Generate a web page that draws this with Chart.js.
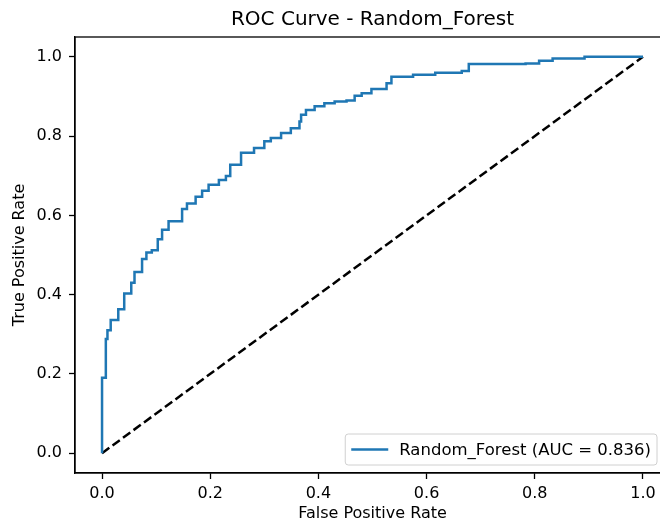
<!DOCTYPE html>
<html>
<head>
<meta charset="utf-8">
<script src="https://cdn.jsdelivr.net/npm/chart.js@4"></script>
<style>
    html, body { margin: 0; padding: 0; background: #fff; overflow: hidden; }
    #wrap { width: 660px; height: 525px; overflow: hidden; position: relative; }
    #box { width: 680px; height: 525px; }
</style>
</head>
<body>
<div id="wrap"><div id="box"><canvas id="roc"></canvas></div></div>
<script>
// ROC points (top of each step)
const fpr = [0, 0, 0.007, 0.010, 0.016, 0.030, 0.041, 0.054, 0.060, 0.074, 0.082, 0.092, 0.103, 0.111,
    0.123, 0.148, 0.157, 0.173, 0.185, 0.197, 0.216, 0.229, 0.237, 0.257, 0.281, 0.300, 0.312, 0.331,
    0.349, 0.365, 0.368, 0.377, 0.393, 0.411, 0.430, 0.452, 0.467, 0.480, 0.498, 0.526, 0.535, 0.575,
    0.616, 0.665, 0.678, 0.783, 0.808, 0.833, 0.892, 1.0];
const tpr = [0, 0.190, 0.288, 0.310, 0.336, 0.363, 0.403, 0.430, 0.457, 0.490, 0.506, 0.512, 0.540, 0.564,
    0.585, 0.616, 0.630, 0.647, 0.662, 0.677, 0.689, 0.699, 0.728, 0.758, 0.770, 0.787, 0.795, 0.808,
    0.820, 0.837, 0.854, 0.866, 0.875, 0.883, 0.887, 0.890, 0.902, 0.908, 0.919, 0.933, 0.950, 0.955,
    0.960, 0.964, 0.982, 0.983, 0.990, 0.996, 1.0, 1.0];
const chanceX = [0, 1];
const chanceY = [0, 1];
const modelName = 'Random_Forest';
const auc = 0.836;
const tickValues = [0, 0.2, 0.4, 0.6, 0.8, 1.0];

const FONT = 'DejaVu Sans';

// legend drawn inside the plot, lower right like matplotlib
const insideLegend = {
    id: 'insideLegend',
    afterDatasetsDraw(chart) {
        const ctx = chart.ctx;
        const area = chart.chartArea;
        const ds = chart.data.datasets[0];
        ctx.save();
        ctx.font = '16.5px "' + FONT + '"';
        const tw = ctx.measureText(ds.label).width;
        const h = 31;
        const w = 6 + 37 + 11 + tw + 6;
        const right = area.right - 13;
        const bottom = area.bottom - 8;
        const left = right - w;
        const top = bottom - h;
        ctx.beginPath();
        ctx.roundRect(left, top, w, h, 3);
        ctx.fillStyle = 'rgba(255,255,255,0.8)';
        ctx.fill();
        ctx.strokeStyle = '#d0d0d0';
        ctx.lineWidth = 1;
        ctx.stroke();
        const cy = top + h / 2;
        ctx.beginPath();
        ctx.moveTo(left + 6, cy);
        ctx.lineTo(left + 43, cy);
        ctx.strokeStyle = ds.borderColor;
        ctx.lineWidth = 2.5;
        ctx.stroke();
        ctx.fillStyle = '#000';
        ctx.textBaseline = 'middle';
        ctx.fillText(ds.label, left + 54, cy + 1);
        ctx.restore();
    }
};

// full box around the axes, like matplotlib spines
const frame = {
    id: 'frame',
    afterDatasetsDraw(chart) {
        const a = chart.chartArea;
        const ctx = chart.ctx;
        ctx.save();
        ctx.strokeStyle = '#000';
        ctx.lineWidth = 1.3;
        ctx.strokeRect(a.left, a.top, a.right - a.left, a.bottom - a.top);
        ctx.restore();
    }
};

new Chart(document.getElementById('roc'), {
    type: 'scatter',
    data: {
        datasets: [{
            label: `${modelName} (AUC = ${auc.toFixed(3)})`,
            data: fpr.map((x, i) => ({ x: x, y: tpr[i] })),
            showLine: true,
            stepped: 'before',
            borderColor: '#1f77b4',
            borderWidth: 2.5,
            pointRadius: 0,
            fill: false
        }, {
            label: 'chance',
            data: chanceX.map((x, i) => ({ x: x, y: chanceY[i] })),
            showLine: true,
            borderColor: '#000',
            borderWidth: 2.5,
            borderDash: [9, 4],
            pointRadius: 0,
            fill: false
        }]
    },
    options: {
        responsive: true,
        maintainAspectRatio: false,
        animation: false,
        layout: { padding: { left: 0, right: 10, top: 0, bottom: 0 } },
        plugins: {
            legend: { display: false },
            tooltip: { enabled: false },
            title: {
                display: true,
                text: 'ROC Curve - ' + modelName,
                fullSize: false,
                color: '#000',
                font: { family: FONT, size: 20, weight: 'normal' },
                padding: { top: 8, bottom: 5 }
            }
        },
        scales: {
            x: {
                type: 'linear',
                min: -0.05,
                max: 1.05,
                afterFit: s => { s.height = 52; },
                afterBuildTicks: s => { s.ticks = tickValues.map(v => ({ value: v })); },
                ticks: {
                    includeBounds: false,
                    color: '#000',
                    padding: 5,
                    font: { family: FONT, size: 16 },
                    callback: v => v.toFixed(1)
                },
                grid: { drawOnChartArea: false, drawTicks: true, tickLength: 6, color: '#000', tickWidth: 1.3 },
                border: { display: true, color: '#000', width: 1.3 },
                title: {
                    display: true,
                    text: 'False Positive Rate',
                    color: '#000',
                    font: { family: FONT, size: 16 },
                    padding: { top: 0, bottom: 1.5 }
                }
            },
            y: {
                type: 'linear',
                min: -0.05,
                max: 1.05,
                afterFit: s => { s.width = 75; },
                afterBuildTicks: s => { s.ticks = tickValues.map(v => ({ value: v })); },
                ticks: {
                    includeBounds: false,
                    color: '#000',
                    padding: 7,
                    font: { family: FONT, size: 16 },
                    callback: v => v.toFixed(1)
                },
                grid: { drawOnChartArea: false, drawTicks: true, tickLength: 6, color: '#000', tickWidth: 1.3 },
                border: { display: true, color: '#000', width: 1.3 },
                title: {
                    display: true,
                    text: 'True Positive Rate',
                    color: '#000',
                    font: { family: FONT, size: 16 },
                    padding: { top: 10.4, bottom: 0 }
                }
            }
        }
    },
    plugins: [frame, insideLegend]
});
</script>
</body>
</html>
